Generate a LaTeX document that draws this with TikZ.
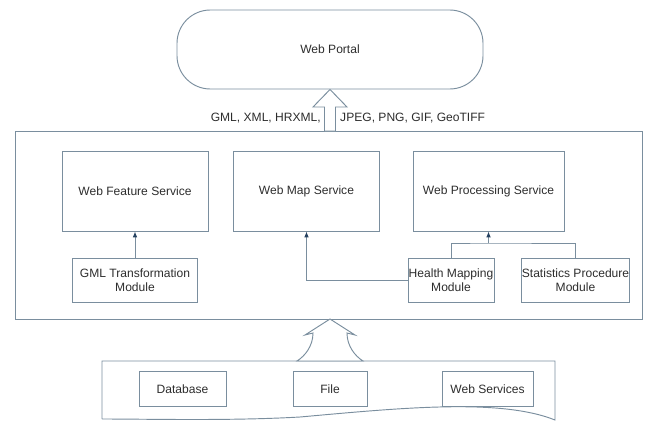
\documentclass[tikz,border=0pt]{standalone}
\usepackage{fontspec}
\setmainfont{Liberation Sans}
\usetikzlibrary{arrows.meta,positioning}
\definecolor{lineblue}{RGB}{122,142,158}
\definecolor{tipblue}{RGB}{38,66,96}
\definecolor{textgray}{RGB}{45,45,45}
\tikzstyle{portal} = [draw=lineblue, line width=0.8pt, rectangle, rounded corners=1cm, minimum width=9.18cm, minimum height=2.37cm, text=textgray]
\tikzstyle{frame} = [draw=lineblue, line width=0.8pt, rectangle]
\tikzstyle{block} = [draw=lineblue, line width=0.8pt, rectangle, minimum width=4.38cm, minimum height=2.4cm, text=textgray]
\tikzstyle{module} = [draw=lineblue, line width=0.8pt, rectangle, align=center, minimum height=1.32cm, inner sep=0.5pt, text=textgray]
\tikzstyle{source} = [draw=lineblue, line width=0.8pt, rectangle, minimum height=1.05cm, text=textgray]
\tikzstyle{label} = [text=textgray, inner sep=0pt]
\tikzstyle{link} = [draw=lineblue, line width=0.8pt]
\tikzstyle{hollow} = [draw=lineblue, fill=white, line width=0.8pt]

\begin{document}
\begin{tikzpicture}[x=0.03cm, y=-0.03cm, >={Latex[color=tipblue,length=5pt,width=4pt]}, font=\fontsize{10.3}{11.5}\selectfont]

\useasboundingbox (0,0) rectangle (645,421);

% top
\node [portal] (portal) at (330,49.5) {Web Portal};
\node [frame, minimum width=18.81cm, minimum height=5.64cm] (services) at (328.5,225) {};

% services
\node [block] (wms) at (306.5,191) {Web Map Service};
\node [block, left of=wms, node distance=5.145cm] (wfs) {Web Feature Service};
\node [block, right of=wms, node distance=5.46cm, minimum width=4.53cm] (wps) {Web Processing Service};
\node [module, below of=wfs, node distance=2.67cm, minimum width=3.75cm] (gml) {GML Transformation\\Module};
\node [module, below of=wps, xshift=-1.125cm, node distance=2.67cm, minimum width=2.58cm] (health) {Health Mapping\\Module};
\node [module, right of=health, node distance=3.735cm, minimum width=3.21cm] (stats) {Statistics Procedure\\Module};
\node [coordinate, below of=wps, node distance=1.56cm] (join) {};

% data sources
\node [source, minimum width=2.22cm] (file) at (330,389) {File};
\node [source, left of=file, node distance=4.425cm, minimum width=2.61cm] (database) {Database};
\node [source, right of=file, node distance=4.725cm, minimum width=2.73cm] (webservices) {Web Services};

\draw [link] (102,419) -- (102,361) -- (555,361) -- (555,420)
  .. controls (500,398) and (400,408) .. (300,417)
  .. controls (230,421) and (150,419) .. (102,419);

% hollow arrows
\draw [hollow] (portal.south) -- (347,107) -- (335.5,107) -- (335.5,131) -- (324.5,131) -- (324.5,107) -- (313,107) -- cycle;
\node [label, anchor=east] (formats) at (321,118) {GML, XML, HRXML,};
\node [label, anchor=west] (images) at (340,118) {JPEG, PNG, GIF, GeoTIFF};

\draw [hollow] (330,319) -- (355,335) -- (347,333) .. controls (347,346) and (355,356) .. (363,361)
  -- (297,361) .. controls (305,356) and (313,346) .. (313,333) -- (305,335) -- cycle;

% connectors
\draw [link, ->] (gml.north) -- (gml.north |- wfs.south);
\draw [link, ->] (health.west) -| (wms.south);
\draw [link] (health.north) |- (join) -| (stats.north);
\draw [link, ->] (join) -- (wps.south);

\end{tikzpicture}
\end{document}
